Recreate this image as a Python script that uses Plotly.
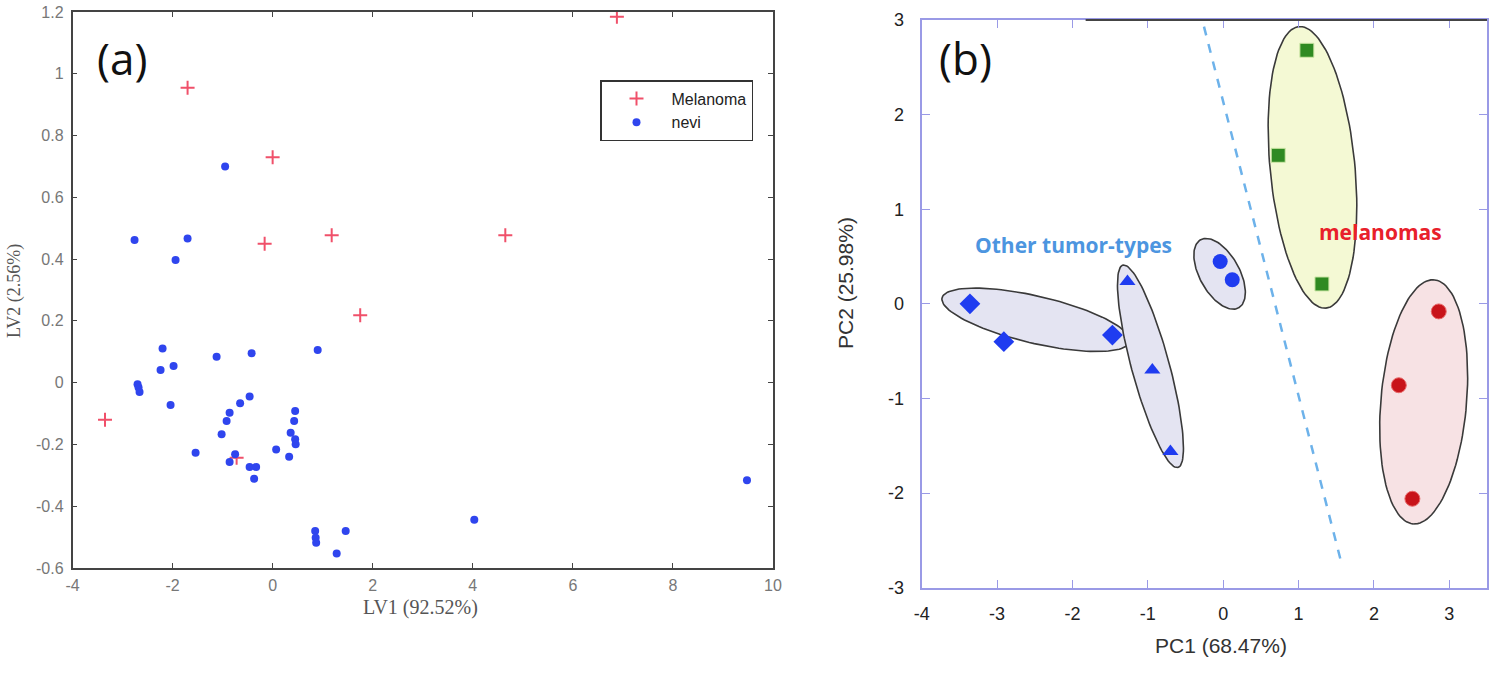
"""
Two-panel score plot: (a) PLS-DA latent variables, (b) PCA scores with cluster ellipses
"""

import numpy as np
import plotly.graph_objects as go

# ---- panel (a) data ----
mel_x = [6.88, -1.70, 0.00, -0.16, 1.18, 1.75, 4.65, -3.35, -0.72]
mel_y = [1.185, 0.955, 0.73, 0.45, 0.477, 0.218, 0.477, -0.12, -0.243]

nevi_x = [-2.76, -1.94, -1.70, -0.95, -2.20, -2.24, -1.98, -1.12, -0.42, 0.90,
          -2.70, -2.68, -2.66, -2.04, -0.46, -0.65, -0.86, -0.92, -1.02, -1.54,
          -0.75, -0.86, -0.46, -0.33, -0.37, 0.07, 0.33, 0.45, 0.43, 0.36,
          0.45, 0.46, 0.85, 0.86, 0.87, 1.46, 1.28, 4.03, 9.48]
nevi_y = [0.462, 0.397, 0.467, 0.70, 0.111, 0.041, 0.054, 0.084, 0.095, 0.106,
          -0.005, -0.016, -0.03, -0.072, -0.045, -0.067, -0.097, -0.124, -0.167, -0.227,
          -0.232, -0.257, -0.273, -0.273, -0.311, -0.216, -0.240, -0.092, -0.124, -0.162,
          -0.183, -0.199, -0.48, -0.502, -0.518, -0.48, -0.553, -0.444, -0.316]

a_xticks = [-4, -2, 0, 2, 4, 6, 8, 10]
a_xlabels = ['-4', '-2', '0', '2', '4', '6', '8', '10']
a_yticks = [-0.6, -0.4, -0.2, 0, 0.2, 0.4, 0.6, 0.8, 1.0, 1.2]
a_ylabels = ['-0.6', '-0.4', '-0.2', '0', '0.2', '0.4', '0.6', '0.8', '1', '1.2']

# ---- panel (b) data ----
diam_x = [-3.36, -2.91, -1.47]
diam_y = [0.0, -0.40, -0.33]
tri_x = [-1.27, -0.94, -0.70]
tri_y = [0.236, -0.70, -1.56]
circ_x = [-0.04, 0.12]
circ_y = [0.447, 0.254]
sq_x = [1.11, 0.73, 1.31]
sq_y = [2.68, 1.57, 0.21]
red_x = [2.86, 2.33, 2.51]
red_y = [-0.08, -0.86, -2.06]

b_xticks = [-4, -3, -2, -1, 0, 1, 2, 3]
b_xlabels = ['-4', '-3', '-2', '-1', '0', '1', '2', '3']
b_yticks = [-3, -2, -1, 0, 1, 2, 3]
b_ylabels = ['-3', '-2', '-1', '0', '1', '2', '3']

# cluster outlines: major-axis ends and minor/major ratio
ellipse_ends = [((-3.73, 0.063), (-1.24, -0.40)),
                ((-1.33, 0.41), (-0.60, -1.73)),
                ((-0.30, 0.677), (0.205, -0.042)),
                ((1.005, 2.93), (1.364, -0.045)),
                ((2.80, 0.254), (2.52, -2.326))]
ellipse_ratio = [0.245, 0.18, 0.51, 0.30, 0.35]
ellipse_fill = ['#e4e4f2', '#e4e4f2', '#e4e4f2', '#f4f9d4', '#f7e2e4']

sep_x = [-0.255, 1.572]
sep_y = [2.93, -2.75]

W, H = 1505, 673


def px(x):
    return x / W


def py(y):
    return 1 - y / H


# panel geometry in page pixels
A_X0, A_X1, A_Y0, A_Y1 = 72.5, 773, 12, 568
B_X0, B_X1, B_Y0, B_Y1 = 921.7, 1487, 20, 587.7

COLORS = {
    'mel': '#f0506a',
    'nevi': '#2f45ee',
    'blue': '#1f3cf0',
    'green': '#2f8a22',
    'red': '#c8141a',
    'axis_b': '#9a9ae6',
}


def ellipse(p1, p2, ratio, sx, sy, n=120):
    x1, y1 = p1[0] * sx, p1[1] * sy
    x2, y2 = p2[0] * sx, p2[1] * sy
    cx, cy = (x1 + x2) / 2, (y1 + y2) / 2
    ax, ay = (x2 - x1) / 2, (y2 - y1) / 2
    bx, by = -ay * ratio, ax * ratio
    t = np.linspace(0, 2 * np.pi, n)
    ex = cx + ax * np.cos(t) + bx * np.sin(t)
    ey = cy + ay * np.cos(t) + by * np.sin(t)
    return ex / sx, ey / sy


fig = go.Figure()

# panel (a)
fig.add_trace(go.Scatter(
    x=mel_x, y=mel_y, mode='markers', name='Melanoma',
    marker=dict(symbol='cross-thin', size=10, line=dict(color=COLORS['mel'], width=2)),
    xaxis='x', yaxis='y'))
fig.add_trace(go.Scatter(
    x=nevi_x, y=nevi_y, mode='markers', name='nevi',
    marker=dict(symbol='circle', size=8, color=COLORS['nevi']),
    xaxis='x', yaxis='y'))

# panel (b) ellipses
sx_b = (B_X1 - B_X0) / 7.5
sy_b = (B_Y1 - B_Y0) / 6.0
for (p1, p2), r, fc in zip(ellipse_ends, ellipse_ratio, ellipse_fill):
    ex, ey = ellipse(p1, p2, r, sx_b, sy_b)
    fig.add_trace(go.Scatter(
        x=ex, y=ey, mode='lines', fill='toself', fillcolor=fc,
        line=dict(color='#3a3a3a', width=1.6), showlegend=False,
        hoverinfo='skip', xaxis='x2', yaxis='y2'))

fig.add_trace(go.Scatter(
    x=sep_x, y=sep_y, mode='lines', showlegend=False,
    line=dict(color='#6db2ea', width=2.5, dash='dash'),
    xaxis='x2', yaxis='y2'))

fig.add_trace(go.Scatter(x=diam_x, y=diam_y, mode='markers', showlegend=False,
    marker=dict(symbol='diamond', size=16, color=COLORS['blue']), xaxis='x2', yaxis='y2'))
fig.add_trace(go.Scatter(x=tri_x, y=tri_y, mode='markers', showlegend=False,
    marker=dict(symbol='triangle-up', size=14, color=COLORS['blue']), xaxis='x2', yaxis='y2'))
fig.add_trace(go.Scatter(x=circ_x, y=circ_y, mode='markers', showlegend=False,
    marker=dict(symbol='circle', size=15, color=COLORS['blue']), xaxis='x2', yaxis='y2'))
fig.add_trace(go.Scatter(x=sq_x, y=sq_y, mode='markers', showlegend=False,
    marker=dict(symbol='square', size=14, color=COLORS['green'],
                line=dict(color='#cfe8a8', width=1)), xaxis='x2', yaxis='y2'))
fig.add_trace(go.Scatter(x=red_x, y=red_y, mode='markers', showlegend=False,
    marker=dict(symbol='circle', size=15, color=COLORS['red'],
                line=dict(color='#e86a6a', width=1)), xaxis='x2', yaxis='y2'))

tick_a = dict(family='Liberation Sans, Arial', size=16, color='#777')
tick_b = dict(family='Liberation Sans, Arial', size=18, color='#222')


def note(text, x, y, size, color, family, angle=0):
    return dict(text=text, x=px(x), y=py(y), xref='paper', yref='paper',
                xanchor='center', yanchor='middle', textangle=angle,
                showarrow=False, font=dict(family=family, size=size, color=color))


fig.update_layout(
    width=W, height=H,
    margin=dict(l=0, r=0, t=0, b=0),
    paper_bgcolor='white', plot_bgcolor='white',
    xaxis=dict(domain=[px(A_X0), px(A_X1)], range=[-4, 10],
               tickvals=a_xticks, ticktext=a_xlabels, automargin=False,
               showgrid=False, zeroline=False, showline=True, linecolor='#444',
               linewidth=1.5, mirror='ticks', ticks='inside', ticklen=5,
               tickcolor='#444', tickfont=tick_a, ticklabelstandoff=2,
               ticklabeloverflow='allow'),
    yaxis=dict(domain=[py(A_Y1), py(A_Y0)], range=[-0.6, 1.2],
               tickvals=a_yticks, ticktext=a_ylabels, automargin=False,
               showgrid=False, zeroline=False, showline=True, linecolor='#444',
               linewidth=1.5, mirror='ticks', ticks='inside', ticklen=5,
               tickcolor='#444', tickfont=tick_a, anchor='x', ticklabelstandoff=4,
               ticklabeloverflow='allow'),
    xaxis2=dict(domain=[px(B_X0), px(B_X1)], range=[-4, 3.5],
                tickvals=b_xticks, ticktext=b_xlabels, automargin=False,
                showgrid=False, zeroline=False, showline=True,
                linecolor=COLORS['axis_b'], linewidth=2, mirror='ticks',
                ticks='inside', ticklen=8, tickcolor=COLORS['axis_b'],
                tickfont=tick_b, anchor='y2', ticklabelstandoff=9,
                ticklabeloverflow='allow'),
    yaxis2=dict(domain=[py(B_Y1), py(B_Y0)], range=[-3, 3],
                tickvals=b_yticks, ticktext=b_ylabels, automargin=False,
                showgrid=False, zeroline=False, showline=True,
                linecolor=COLORS['axis_b'], linewidth=2, mirror='ticks',
                ticks='inside', ticklen=8, tickcolor=COLORS['axis_b'],
                tickfont=tick_b, anchor='x2', ticklabelstandoff=12,
                ticklabeloverflow='allow'),
    legend=dict(x=px(600), y=py(80), xanchor='left', yanchor='top',
                bgcolor='white', bordercolor='#333', borderwidth=1.5,
                font=dict(family='Liberation Sans, Arial', size=16, color='#222'),
                itemwidth=60, tracegroupgap=4),
    shapes=[dict(type='line', xref='x2 domain', yref='y2 domain',
                 x0=0.29, x1=1, y0=1, y1=1,
                 line=dict(color='#444', width=2))],
    annotations=[
        dict(text='(a)', x=-3.01, y=1.05, xref='x', yref='y', showarrow=False,
             font=dict(family='Open Sans', size=44, color='#111')),
        note('LV1 (92.52%)', 420, 607, 20, '#555', 'Liberation Serif'),
        note('LV2 (2.56%)', 14, 291, 18, '#555', 'Liberation Serif', -90),
        dict(text='(b)', x=-3.42, y=2.60, xref='x2', yref='y2', showarrow=False,
             font=dict(family='Open Sans', size=44, color='#111')),
        note('PC1 (68.47%)', 1221, 645, 21, '#333', 'Liberation Sans, Arial'),
        note('PC2 (25.98%)', 845, 283, 21, '#333', 'Liberation Sans, Arial', -90),
        dict(text='<b>Other tumor-types</b>', x=-1.99, y=0.62, xref='x2', yref='y2',
             showarrow=False, font=dict(family='Open Sans', size=21, color='#4c95e0')),
        dict(text='<b>melanomas</b>', x=2.09, y=0.76, xref='x2', yref='y2',
             showarrow=False, font=dict(family='Open Sans', size=21, color='#e8202a')),
    ],
)

# drop the default page margin so the figure sits at the window's top-left
fig.write_html("out.html", config={'displayModeBar': False},
               post_script="document.body.style.margin='0';")
